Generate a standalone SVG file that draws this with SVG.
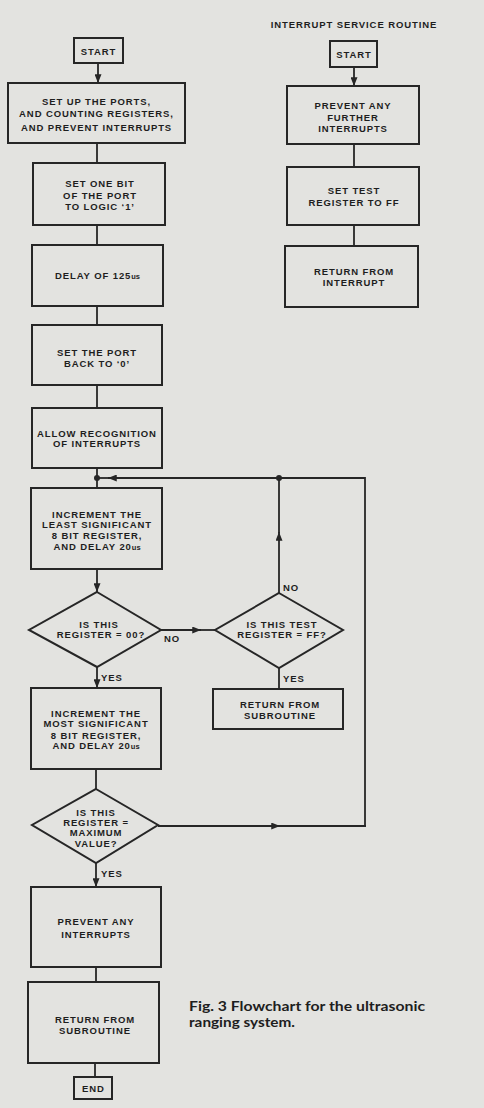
<svg xmlns="http://www.w3.org/2000/svg" width="484" height="1108" viewBox="0 0 484 1108">
<defs>
<style>
.bg{fill:#e3e3e0}
.box{fill:none;stroke:#262626;stroke-width:2}
.ln{fill:none;stroke:#262626;stroke-width:1.8}
.dot{fill:#262626}
.t{font-family:"Liberation Sans",Arial,sans-serif;font-weight:bold;font-size:9.5px;fill:#1e1e1e;text-anchor:middle;letter-spacing:0.9px}
.l{text-anchor:start}
.u{font-size:7.5px;letter-spacing:0}
.cap{font-family:Lato,"Open Sans",sans-serif;font-weight:bold;font-size:13px;fill:#1e1e1e}
</style>
<marker id="ah" viewBox="0 0 10 8" refX="10" refY="4" markerWidth="9" markerHeight="7" markerUnits="userSpaceOnUse" orient="auto">
<path d="M0,0 L10,4 L0,8 Z" fill="#262626"/>
</marker>
</defs>
<rect class="bg" x="0" y="0" width="484" height="1108"/>

<g id="connectors">
<line class="ln" x1="98" y1="63" x2="98" y2="83" marker-end="url(#ah)"/>
<line class="ln" x1="97" y1="143" x2="97" y2="163"/>
<line class="ln" x1="97" y1="225" x2="97" y2="245"/>
<line class="ln" x1="97" y1="306" x2="97" y2="325"/>
<line class="ln" x1="97" y1="385" x2="97" y2="408"/>
<line class="ln" x1="97" y1="468" x2="97" y2="488"/>
<circle class="dot" cx="97" cy="478" r="3"/>
<line class="ln" x1="97" y1="569" x2="97" y2="592" marker-end="url(#ah)"/>
<line class="ln" x1="97" y1="667" x2="97" y2="688" marker-end="url(#ah)"/>
<line class="ln" x1="96" y1="769" x2="96" y2="789"/>
<line class="ln" x1="96" y1="863" x2="96" y2="887" marker-end="url(#ah)"/>
<line class="ln" x1="96" y1="967" x2="96" y2="982"/>
<line class="ln" x1="95" y1="1063" x2="95" y2="1077"/>
<line class="ln" x1="161" y1="630" x2="201" y2="630" marker-end="url(#ah)"/>
<line class="ln" x1="200" y1="630" x2="215" y2="630"/>
<line class="ln" x1="279" y1="593" x2="279" y2="532" marker-end="url(#ah)"/>
<line class="ln" x1="279" y1="533" x2="279" y2="478"/>
<circle class="dot" cx="279" cy="478" r="3"/>
<line class="ln" x1="365" y1="478" x2="108" y2="478" marker-end="url(#ah)"/>
<line class="ln" x1="109" y1="478" x2="97" y2="478"/>
<line class="ln" x1="365" y1="477" x2="365" y2="827"/>
<line class="ln" x1="158" y1="826" x2="280" y2="826" marker-end="url(#ah)"/>
<line class="ln" x1="279" y1="826" x2="366" y2="826"/>
<line class="ln" x1="279" y1="668" x2="279" y2="689"/>
<line class="ln" x1="354" y1="67" x2="354" y2="86" marker-end="url(#ah)"/>
<line class="ln" x1="354" y1="144" x2="354" y2="167"/>
<line class="ln" x1="354" y1="225" x2="354" y2="246"/>
</g>

<g id="start-main">
<rect class="box" x="74" y="38" width="49" height="25"/>
<text class="t" x="98.5" y="55">START</text>
</g>
<g id="setup">
<rect class="box" x="8" y="83" width="177" height="60"/>
<text class="t" x="96.5" y="104.5">SET UP THE PORTS,</text>
<text class="t" x="96.5" y="117">AND COUNTING REGISTERS,</text>
<text class="t" x="96.5" y="130.5">AND PREVENT INTERRUPTS</text>
</g>
<g id="setbit">
<rect class="box" x="33" y="163" width="132" height="62"/>
<text class="t" x="100" y="187">SET ONE BIT</text>
<text class="t" x="100" y="198.5">OF THE PORT</text>
<text class="t" x="100" y="209.5">TO LOGIC ‘1’</text>
</g>
<g id="delay">
<rect class="box" x="32" y="245" width="131" height="61"/>
<text class="t" x="97.5" y="279">DELAY OF 125<tspan class="u">us</tspan></text>
</g>
<g id="portback">
<rect class="box" x="32" y="325" width="130" height="60"/>
<text class="t" x="97" y="356">SET THE PORT</text>
<text class="t" x="97" y="366.5">BACK TO ‘0’</text>
</g>
<g id="allow">
<rect class="box" x="32" y="408" width="130" height="60"/>
<text class="t" x="97" y="436.5">ALLOW RECOGNITION</text>
<text class="t" x="97" y="447">OF INTERRUPTS</text>
</g>
<g id="inc-lsb">
<rect class="box" x="31" y="488" width="131" height="81"/>
<text class="t" x="97" y="517.5">INCREMENT THE</text>
<text class="t" x="97" y="528">LEAST SIGNIFICANT</text>
<text class="t" x="97" y="539">8 BIT REGISTER,</text>
<text class="t" x="97" y="549.5">AND DELAY 20<tspan class="u">us</tspan></text>
</g>
<g id="is-zero">
<polygon class="box" points="97,592 161,630 97,667 29,630"/>
<text class="t" x="99" y="627.5">IS THIS</text>
<text class="t" x="101" y="638.3">REGISTER = 00?</text>
<text class="t l" x="164" y="641.5">NO</text>
<text class="t l" x="101" y="680.5">YES</text>
</g>
<g id="is-ff">
<polygon class="box" points="279,593 343,630 279,668 215,630"/>
<text class="t" x="282" y="627.5">IS THIS TEST</text>
<text class="t" x="282" y="638.3">REGISTER = FF?</text>
<text class="t l" x="283" y="590.5">NO</text>
<text class="t l" x="283" y="682">YES</text>
</g>
<g id="return-sub-1">
<rect class="box" x="213" y="689" width="130" height="40"/>
<text class="t" x="280" y="708">RETURN FROM</text>
<text class="t" x="280" y="718.5">SUBROUTINE</text>
</g>
<g id="inc-msb">
<rect class="box" x="31" y="688" width="130" height="81"/>
<text class="t" x="96" y="716.5">INCREMENT THE</text>
<text class="t" x="96" y="727.3">MOST SIGNIFICANT</text>
<text class="t" x="96" y="738.5">8 BIT REGISTER,</text>
<text class="t" x="96" y="749.3">AND DELAY 20<tspan class="u">us</tspan></text>
</g>
<g id="is-max">
<polygon class="box" points="96,789 158,825 96,863 32,825"/>
<text class="t" x="96" y="816">IS THIS</text>
<text class="t" x="96" y="825.7">REGISTER =</text>
<text class="t" x="96" y="835.7">MAXIMUM</text>
<text class="t" x="96" y="846.7">VALUE?</text>
<text class="t l" x="101" y="877">YES</text>
</g>
<g id="prevent">
<rect class="box" x="31" y="887" width="130" height="80"/>
<text class="t" x="96" y="925">PREVENT ANY</text>
<text class="t" x="96" y="938">INTERRUPTS</text>
</g>
<g id="return-sub-2">
<rect class="box" x="28" y="982" width="131" height="81"/>
<text class="t" x="95" y="1022.5">RETURN FROM</text>
<text class="t" x="95" y="1034">SUBROUTINE</text>
</g>
<g id="end">
<rect class="box" x="74" y="1077" width="38" height="22"/>
<text class="t" x="93.5" y="1092">END</text>
</g>

<g id="isr-title">
<text class="t" x="354" y="28">INTERRUPT SERVICE ROUTINE</text>
</g>
<g id="start-isr">
<rect class="box" x="330" y="41" width="47" height="26"/>
<text class="t" x="354" y="57.5">START</text>
</g>
<g id="prevent-further">
<rect class="box" x="287" y="86" width="132" height="58"/>
<text class="t" x="353" y="109">PREVENT ANY</text>
<text class="t" x="353" y="120.5">FURTHER</text>
<text class="t" x="353" y="131.5">INTERRUPTS</text>
</g>
<g id="set-test">
<rect class="box" x="287" y="167" width="132" height="58"/>
<text class="t" x="354" y="194">SET TEST</text>
<text class="t" x="354" y="205.5">REGISTER TO FF</text>
</g>
<g id="return-int">
<rect class="box" x="285" y="246" width="133" height="61"/>
<text class="t" x="354" y="275">RETURN FROM</text>
<text class="t" x="354" y="285.5">INTERRUPT</text>
</g>

<g id="caption">
<text class="cap" x="189" y="1010.5" textLength="236" lengthAdjust="spacingAndGlyphs">Fig. 3 Flowchart for the ultrasonic</text>
<text class="cap" x="189" y="1026.5" textLength="106" lengthAdjust="spacingAndGlyphs">ranging system.</text>
</g>
</svg>
